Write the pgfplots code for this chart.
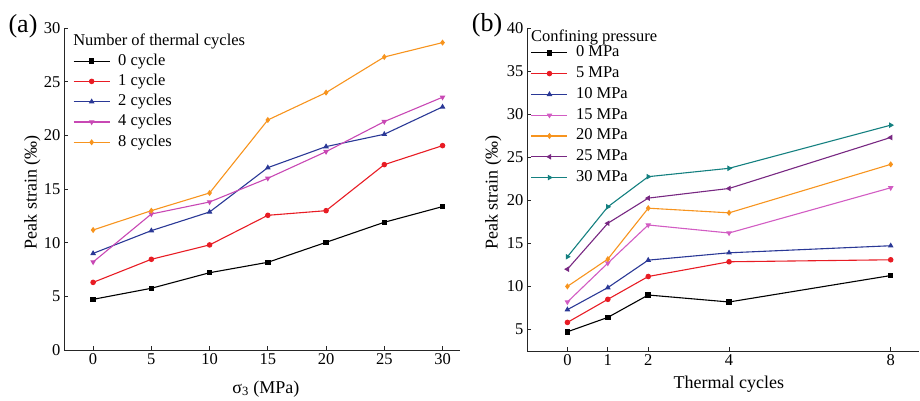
\documentclass[border=0pt]{standalone}
\usepackage{fontspec}
\setmainfont{Liberation Serif}
\usepackage{pgfplots}
\pgfplotsset{compat=1.18}
\definecolor{cred}{RGB}{232,28,36}
\definecolor{cblue}{RGB}{42,56,150}
\definecolor{cmag}{RGB}{200,72,180}
\definecolor{cpink}{RGB}{210,92,195}
\definecolor{corange}{RGB}{247,148,30}
\definecolor{cpurple}{RGB}{120,40,130}
\definecolor{cteal}{RGB}{20,128,128}
\pgfplotsset{
 mystyle/.style={
  scale only axis,
  axis lines*=left,
  tick align=inside,
  major tick length=4pt,
  axis line style={line width=0.8pt, black!85},
  tick style={black!85, line width=0.8pt},
  tick label style={font=\fontsize{16.5}{16.5}\selectfont},
  /pgf/number format/assume math mode=true,
  label style={font=\fontsize{18}{18}\selectfont},
  legend cell align=left,
  legend style={draw=none, fill=none, font=\fontsize{16.5}{16.5}\selectfont, inner sep=0pt, outer sep=0pt,
    nodes={inner sep=0pt, text height=11pt, text depth=3pt}, row sep=6.3pt, column sep=8pt},
  legend image code/.code={\draw[mark repeat=2,mark phase=2] plot coordinates {(0pt,0pt) (18pt,0pt) (36pt,0pt)};},
  every axis plot/.append style={line width=1.1pt, mark size=2.2pt, mark options={solid}},
 }
}
\begin{document}
\begin{tikzpicture}
\useasboundingbox (0,0) rectangle (920pt,401pt);
% Panel (a)
\begin{axis}[mystyle,
  at={(64pt,51pt)}, anchor=south west,
  width=396pt, height=322pt,
  xmin=-2.5, xmax=31.5, ymin=0, ymax=30,
  xtick={0,5,...,30}, ytick={0,5,...,30},
  xlabel={σ\textsubscript{3} (MPa)},
  ylabel={Peak strain (‰)},
  xlabel style={at={(axis description cs:0.51,-0.121)}, anchor=center},
  ylabel style={at={(axis description cs:-0.08,0.49)}, anchor=center},
  legend style={at={(axis description cs:0.023,0.919)}, anchor=north west},
]
\addplot[black, mark=square*] coordinates {(0,4.72)(5,5.75)(10,7.2)(15,8.17)(20,10.03)(25,11.9)(30,13.36)};
\addlegendentry{0 cycle}
\addplot[cred, mark=*] coordinates {(0,6.3)(5,8.45)(10,9.79)(15,12.55)(20,12.98)(25,17.27)(30,19.04)};
\addlegendentry{1 cycle}
\addplot[cblue, mark=triangle*] coordinates {(0,9.0)(5,11.12)(10,12.86)(15,16.99)(20,18.95)(25,20.1)(30,22.65)};
\addlegendentry{2 cycles}
\addplot[cmag, mark=triangle*, mark options={rotate=180}] coordinates {(0,8.2)(5,12.67)(10,13.79)(15,16.0)(20,18.48)(25,21.28)(30,23.55)};
\addlegendentry{4 cycles}
\addplot[corange, mark=diamond*] coordinates {(0,11.18)(5,12.98)(10,14.63)(15,21.43)(20,23.98)(25,27.3)(30,28.64)};
\addlegendentry{8 cycles}
\node[anchor=west, font=\fontsize{16.5}{16.5}\selectfont, inner sep=0pt] at (axis description cs:0.023,0.957) {Number of thermal cycles};
\end{axis}
% Panel (b)
\begin{axis}[mystyle,
  at={(527pt,50pt)}, anchor=south west,
  width=392pt, height=323pt,
  xmin=-1, xmax=8.7, ymin=2.5, ymax=40,
  xtick={0,1,2,4,8}, ytick={5,10,...,40},
  xlabel={Thermal cycles},
  ylabel={Peak strain (‰)},
  xlabel style={at={(axis description cs:0.515,-0.102)}, anchor=center},
  ylabel style={at={(axis description cs:-0.086,0.49)}, anchor=center},
  legend style={at={(axis description cs:0.010,0.945)}, anchor=north west, row sep=6.8pt},
]
\addplot[black, mark=square*] coordinates {(0,4.73)(1,6.4)(2,9.0)(4,8.19)(8,11.26)};
\addlegendentry{0 MPa}
\addplot[cred, mark=*] coordinates {(0,5.82)(1,8.5)(2,11.15)(4,12.86)(8,13.09)};
\addlegendentry{5 MPa}
\addplot[cblue, mark=triangle*] coordinates {(0,7.3)(1,9.86)(2,13.05)(4,13.9)(8,14.72)};
\addlegendentry{10 MPa}
\addplot[cpink, mark=triangle*, mark options={rotate=180}] coordinates {(0,8.19)(1,12.7)(2,17.13)(4,16.2)(8,21.45)};
\addlegendentry{15 MPa}
\addplot[corange, mark=diamond*] coordinates {(0,10.0)(1,13.17)(2,19.08)(4,18.54)(8,24.17)};
\addlegendentry{20 MPa}
\addplot[cpurple, mark=triangle*, mark options={rotate=90}] coordinates {(0,12.0)(1,17.33)(2,20.25)(4,21.37)(8,27.29)};
\addlegendentry{25 MPa}
\addplot[cteal, mark=triangle*, mark options={rotate=-90}] coordinates {(0,13.44)(1,19.24)(2,22.74)(4,23.71)(8,28.72)};
\addlegendentry{30 MPa}
\node[anchor=west, font=\fontsize{16.5}{16.5}\selectfont, inner sep=0pt] at (axis description cs:0.010,0.972) {Confining pressure};
\end{axis}
\node[font=\fontsize{26}{26}\selectfont] at (23pt,375pt) {(a)};
\node[font=\fontsize{26}{26}\selectfont] at (487pt,376pt) {(b)};
\end{tikzpicture}
\end{document}
